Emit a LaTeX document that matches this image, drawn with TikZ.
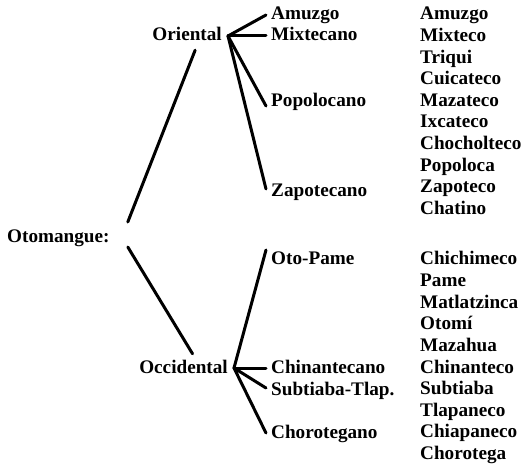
\documentclass[tikz,border=0pt]{standalone}
\usepackage{fontspec}
\setmainfont{Liberation Serif}
\usetikzlibrary{
  positioning, % for relative placement
}
\tikzset{
  word/.style={ % style for every printed name
    font=\bfseries\fontsize{19.2}{21}\selectfont, % bold serif text
    inner sep=0pt, % no padding round the text
    text height=12pt, text depth=2pt, % same box for every name
  },
  branch/.style={ % style for the middle column (subgroups)
    word, anchor=west, inner xsep=5pt,
  },
  lang/.style={ % style for the right column (languages)
    word, anchor=west,
  },
  tie/.style={ % style for the connecting lines
    line width=3pt, line cap=round,
  },
}

\begin{document}
\begin{tikzpicture}[x=1pt, y=-1pt]
	\useasboundingbox (0,0) rectangle (525,465);
	
	\node[word, anchor=west] (oto) at (7,238) {Otomangue:};
	
	\node[word, anchor=east, inner xsep=6pt] (ori) at (228,36) {Oriental};
	\node[word, anchor=east, inner xsep=6pt] (occ) at (234,368) {Occidental};
	
	\node[branch] (amu) at (266,15) {Amuzgo};
	\node[branch] (mix) at (266,36) {Mixtecano};
	\node[branch] (pop) at (266,102) {Popolocano};
	\node[branch] (zap) at (266,192) {Zapotecano};
	\node[branch] (otp) at (266,260) {Oto-Pame};
	\node[branch] (chi) at (266,368) {Chinantecano};
	\node[branch] (sub) at (266,390) {Subtiaba-Tlap.};
	\node[branch] (cho) at (266,433) {Chorotegano};
	
	% languages, right column
	\foreach \lname [count=\i from 0] in {Amuzgo,Mixteco,Triqui,Cuicateco,Mazateco,Ixcateco,Chocholteco,Popoloca,Zapoteco,Chatino}
		\node[lang] (le\i) at (420,15+21.6*\i) {\lname};
	\foreach \lname [count=\i from 0] in {Chichimeco,Pame,Matlatzinca,Otomí,Mazahua,Chinanteco,Subtiaba,Tlapaneco,Chiapaneco,Chorotega}
		\node[lang] (lw\i) at (420,260+21.6*\i) {\lname};
	
	\draw[tie] ([xshift=18pt,yshift=16pt]oto.east) -- ([xshift=8pt,yshift=-7pt]ori.south);
	\draw[tie] ([xshift=18pt,yshift=-9pt]oto.east) -- ([xshift=9pt,yshift=7pt]occ.north);
	
	\path[tie] (ori.east) edge (amu.west)
				edge (mix.west)
				edge ([yshift=-4pt]pop.west)
				edge ([yshift=3pt]zap.west);
	\path[tie] (occ.east) edge ([yshift=10pt]otp.west)
				edge (chi.west)
				edge ([yshift=2pt]sub.west)
				edge (cho.west);
\end{tikzpicture}
\end{document}
